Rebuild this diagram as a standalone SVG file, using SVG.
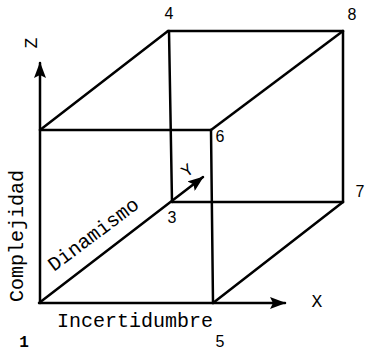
<svg xmlns="http://www.w3.org/2000/svg" width="365" height="351" viewBox="0 0 365 351">
<style>
.e{stroke:#000;stroke-width:2.5;fill:none;stroke-linecap:round}
.m{font-family:"Liberation Mono",monospace;font-size:20px;fill:#000}
.d{font-family:"Liberation Sans",Arial,sans-serif;font-size:16px;fill:#000;text-anchor:middle}
</style>
<defs>
<marker id="ah" viewBox="0 0 16 12" refX="15" refY="6" markerWidth="16" markerHeight="12" markerUnits="userSpaceOnUse" orient="auto">
<path d="M0,0 L16,6 L0,12 L3,6 Z" fill="#000"/>
</marker>
</defs>
<rect width="365" height="351" fill="#fff"/>
<g id="connectors">
<line class="e" x1="40" y1="303" x2="40" y2="63" marker-end="url(#ah)"/>
<line class="e" x1="40" y1="303" x2="285" y2="303" marker-end="url(#ah)"/>
<line class="e" x1="39" y1="303" x2="203" y2="177" marker-end="url(#ah)"/>
<line class="e" x1="40" y1="130" x2="211" y2="130"/>
<line class="e" x1="211" y1="130" x2="213" y2="303"/>
<line class="e" x1="40" y1="130" x2="168" y2="31"/>
<line class="e" x1="168" y1="31" x2="343" y2="31"/>
<line class="e" x1="211" y1="130" x2="343" y2="31"/>
<line class="e" x1="343" y1="31" x2="343" y2="202"/>
<line class="e" x1="169" y1="31" x2="172" y2="202"/>
<line class="e" x1="172" y1="202" x2="343" y2="202"/>
<line class="e" x1="213" y1="303" x2="343" y2="202"/>
</g>
<g id="v1"><text class="m" x="24" y="347" text-anchor="middle" font-weight="bold" style="font-size:16px">1</text></g>
<g id="v3"><text class="d" x="172" y="223">3</text></g>
<g id="v4"><text class="d" x="169" y="19">4</text></g>
<g id="v5"><text class="d" x="220" y="347">5</text></g>
<g id="v6"><text class="d" x="220" y="142">6</text></g>
<g id="v7"><text class="d" x="360" y="197" text-anchor="start">7</text></g>
<g id="v8"><text class="d" x="352" y="20">8</text></g>
<g id="axis-z"><text class="m" transform="translate(37,43) rotate(-90)" text-anchor="middle" style="font-size:18px">Z</text></g>
<g id="axis-x"><text class="m" x="317" y="307" text-anchor="middle" style="font-size:18px">X</text></g>
<g id="axis-y"><text class="m" transform="translate(187,170) rotate(-37)" text-anchor="middle" dy="0.35em" style="font-size:17px">Y</text></g>
<g id="label-complejidad"><text class="m" transform="translate(23,302) rotate(-90)">Complejidad</text></g>
<g id="label-dinamismo"><text class="m" transform="translate(54,272) rotate(-37)">Dinamismo</text></g>
<g id="label-incertidumbre"><text class="m" x="57" y="327">Incertidumbre</text></g>
</svg>
